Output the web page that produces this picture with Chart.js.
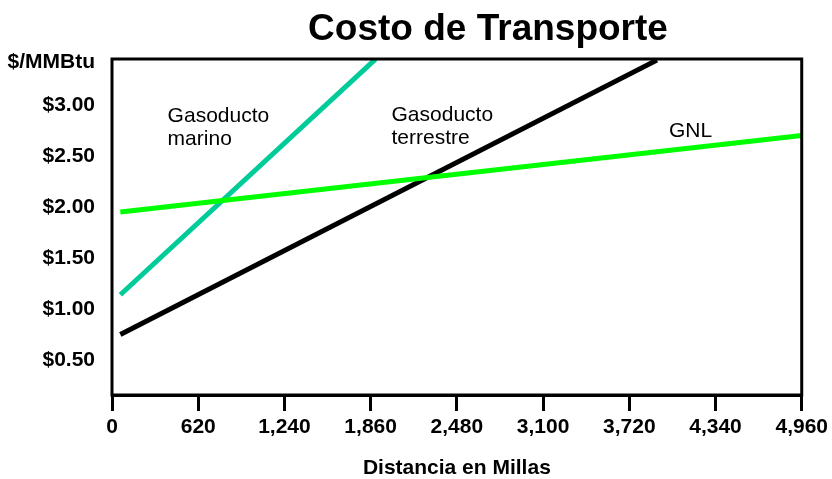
<!DOCTYPE html>
<html>
<head>
<meta charset="utf-8">
<style>
  html, body { margin: 0; padding: 0; background: #fff; }
  #wrap { width: 832px; height: 479px; }
</style>
<script src="https://cdn.jsdelivr.net/npm/chart.js@4/dist/chart.umd.min.js"></script>
</head>
<body>
<div id="wrap"><canvas id="c" width="832" height="479"></canvas></div>
<script>
// Distance tick labels (miles) and price ticks ($/MMBtu)
const distanceTicks = [0, 620, 1240, 1860, 2480, 3100, 3720, 4340, 4960];
const priceTicks = [0.5, 1.0, 1.5, 2.0, 2.5, 3.0];
const unitTick = 3.42;

// Cost lines: end points in miles and $/MMBtu
const marinoMiles = [60, 1895];
const marinoCost = [1.14, 3.45];
const terrestreMiles = [60, 3919];
const terrestreCost = [0.75, 3.44];
const gnlMiles = [60, 4960];
const gnlCost = [1.95, 2.70];

const pts = (xs, ys) => xs.map((x, i) => ({ x: x, y: ys[i] }));

const FONT = "'Liberation Sans', Arial, Helvetica, sans-serif";

// In-plot line labels, anchored in data units
const lineLabels = [
  { lines: ['Gasoducto', 'marino'], x: 400, y: 2.833 },
  { lines: ['Gasoducto', 'terrestre'], x: 2010, y: 2.843 },
  { lines: ['GNL'], x: 4005, y: 2.686 }
];

const framePlugin = {
  id: 'frame',
  afterDatasetsDraw(chart) {
    const { ctx, chartArea: a } = chart;
    ctx.save();
    ctx.strokeStyle = '#000';
    ctx.lineWidth = 3;
    ctx.strokeRect(a.left, a.top, a.right - a.left, a.bottom - a.top);
    ctx.restore();
  }
};

const textPlugin = {
  id: 'texts',
  afterDraw(chart) {
    const { ctx, scales } = chart;
    ctx.save();
    ctx.fillStyle = '#000';
    // chart title
    ctx.font = 'bold 37px ' + FONT;
    ctx.textAlign = 'center';
    ctx.textBaseline = 'alphabetic';
    ctx.fillText('Costo de Transporte', 488, 40);
    // line labels
    ctx.font = '21px ' + FONT;
    ctx.textAlign = 'left';
    lineLabels.forEach(l => {
      const px = scales.x.getPixelForValue(l.x);
      const py = scales.y.getPixelForValue(l.y);
      l.lines.forEach((t, i) => ctx.fillText(t, px, py + i * 23));
    });
    ctx.restore();
  }
};

new Chart(document.getElementById('c'), {
  type: 'scatter',
  data: {
    datasets: [
      { label: 'GNL', data: pts(gnlMiles, gnlCost), borderColor: '#00FF00', order: 0 },
      { label: 'Gasoducto terrestre', data: pts(terrestreMiles, terrestreCost), borderColor: '#000000', order: 1 },
      { label: 'Gasoducto marino', data: pts(marinoMiles, marinoCost), borderColor: '#00CC99', order: 2 }
    ].map(d => Object.assign(d, {
      showLine: true,
      borderWidth: 5,
      borderCapStyle: 'butt',
      pointRadius: 0,
      pointHoverRadius: 0,
      fill: false
    }))
  },
  options: {
    responsive: false,
    animation: false,
    events: [],
    layout: { padding: { left: 0, right: 29, top: 59, bottom: 0 } },
    plugins: {
      legend: { display: false },
      title: { display: false },
      tooltip: { enabled: false }
    },
    scales: {
      x: {
        type: 'linear',
        min: 0,
        max: 4960,
        afterBuildTicks: s => { s.ticks = distanceTicks.map(v => ({ value: v })); },
        afterFit: s => { s.height = 84; },
        grid: {
          display: true,
          drawOnChartArea: false,
          drawTicks: true,
          tickLength: 16,
          lineWidth: 3,
          color: '#000'
        },
        border: { display: true, color: '#000', width: 3 },
        ticks: {
          autoSkip: false,
          maxRotation: 0,
          padding: 4,
          color: '#000',
          font: { family: FONT, size: 21, weight: 'bold' },
          callback: v => Number(v).toLocaleString('en-US')
        },
        title: {
          display: true,
          text: 'Distancia en Millas',
          color: '#000',
          font: { family: FONT, size: 21, weight: 'bold', lineHeight: 1 },
          padding: { top: 0, bottom: 0 }
        }
      },
      y: {
        type: 'linear',
        min: 0.157,
        max: 3.451,
        afterBuildTicks: s => { s.ticks = priceTicks.concat([unitTick]).map(v => ({ value: v })); },
        afterFit: s => { s.width = 112; },
        grid: { display: false, drawTicks: false },
        border: { display: false },
        ticks: {
          autoSkip: false,
          padding: 17,
          color: '#000',
          font: { family: FONT, size: 21, weight: 'bold' },
          callback: v => v === unitTick ? '$/MMBtu' : '$' + Number(v).toFixed(2)
        }
      }
    }
  },
  plugins: [framePlugin, textPlugin]
});
</script>
</body>
</html>
